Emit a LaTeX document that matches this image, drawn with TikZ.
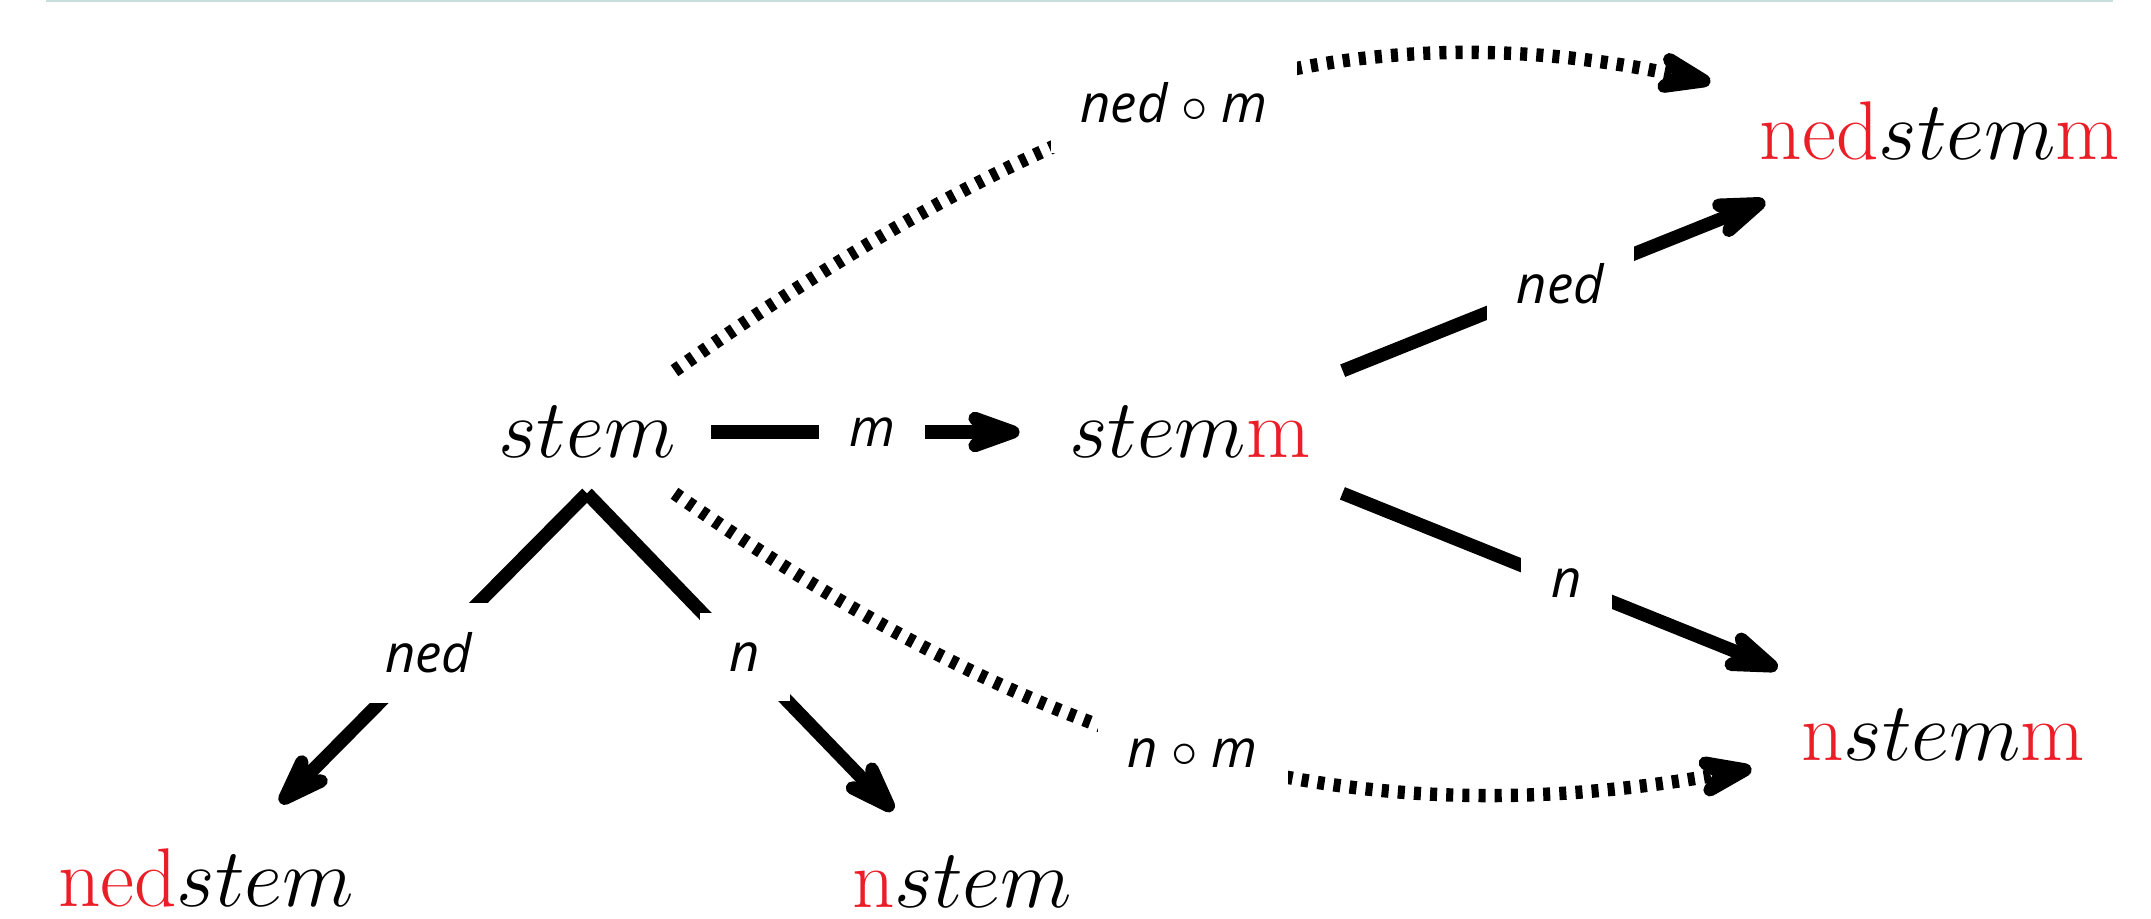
\RequirePackage{fix-cm}
\documentclass[tikz,border=0pt]{standalone}
\usepackage{fontspec}
\usepackage{xcolor}
\usetikzlibrary{arrows.meta}
\newfontfamily\lblfont{Open Sans}
\definecolor{affix}{RGB}{235,30,40}
\definecolor{rulecol}{RGB}{200,222,218}

\begin{document}
\begin{tikzpicture}[
  word/.style={
    inner sep=0.35cm,
    font=\fontsize{23.7}{28}\selectfont
  },
  lbl/.style={
    fill=white, inner sep=0.3cm,
    font=\lblfont\itshape\fontsize{15}{18}\selectfont
  },
  arr/.style={-{Stealth[round, length=24pt, width=17pt, inset=9pt]}, line width=3.8pt, shorten >=4pt},
  dots/.style={arr, dash pattern=on 2pt off 2.6pt},
]

\useasboundingbox (0,0) rectangle (21.51,-9.18);
\draw[rulecol, line width=0.6pt] (0.46,-0.01) -- (21.13,-0.01);

\node[word] (stem)     at (5.87,-4.32)  {$stem$};
\node[word] (stemm)    at (11.90,-4.32) {$stem$\textcolor{affix}{m}};

\node[word] (nedstemm) at (19.40,-1.31) {\textcolor{affix}{ned}$stem$\textcolor{affix}{m}};
\node[word] (nstemm)   at (19.43,-7.35) {\textcolor{affix}{n}$stem$\textcolor{affix}{m}};

\node[word] (nedstem)  at (2.06,-8.78)  {\textcolor{affix}{ned}$stem$};
\node[word] (nstem)    at (9.62,-8.82)  {\textcolor{affix}{n}$stem$};

\draw[arr] (stem)  -- node[lbl] {m} (stemm);
\draw[arr] (stemm) -- node[lbl] {ned} (nedstemm);
\draw[arr] (stemm) -- node[lbl] {n} (nstemm);
\draw[arr] (stem.south) -- node[lbl] {ned} (nedstem);
\draw[arr] (stem.south) -- node[lbl] {n} (nstem);

\draw[dots] (stem) to[out=35, in=168]  node[lbl] {ned $\circ$ m} (nedstemm);
\draw[dots] (stem) to[out=-35, in=190] node[lbl] {n $\circ$ m} (nstemm);

\end{tikzpicture}
\end{document}
